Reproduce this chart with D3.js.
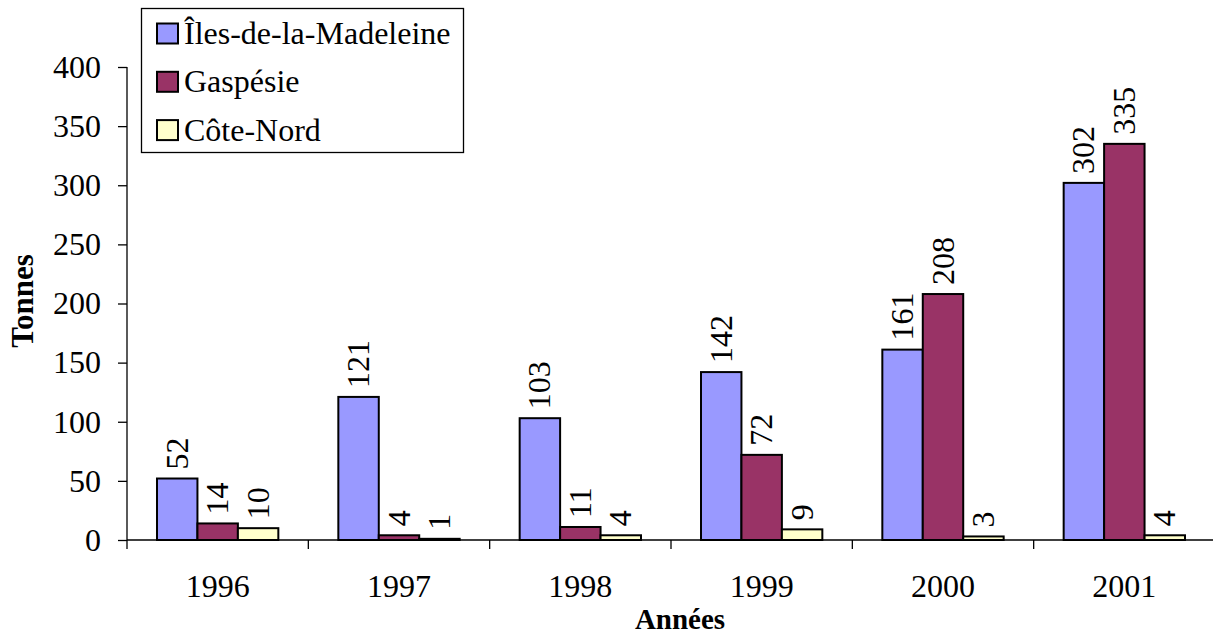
<!DOCTYPE html>
<html><head><meta charset="utf-8">
<script src="https://cdn.jsdelivr.net/npm/d3@7"></script>
<style>body{margin:0;background:#fff}svg{display:block}
svg text{font-family:"Liberation Serif","Times New Roman",Times,"DejaVu Serif",serif !important}</style>
</head><body>
<svg id="c" width="1213" height="637"></svg>
<script>
const years = ["1996","1997","1998","1999","2000","2001"];
const seriesNames = ["Îles-de-la-Madeleine","Gaspésie","Côte-Nord"];
const iles = [52,121,103,142,161,302];
const gaspesie = [14,4,11,72,208,335];
const coteNord = [10,1,4,9,3,4];
const colors = ["#9999FF","#993366","#FFFFCC"];
const yTicks = [0,50,100,150,200,250,300,350,400];

const seriesValues = [iles, gaspesie, coteNord];
const svg = d3.select("#c");
const mLeft = 127, mRight = 1215, mTop = 67, mBottom = 540;
const fs = 32;
const ff = '"Liberation Serif","Times New Roman",Times,"DejaVu Serif",serif';

const x = d3.scaleBand().domain(years).range([mLeft, mRight]).paddingInner(0).paddingOuter(0);
const x1 = d3.scaleBand().domain(seriesNames).range([30, x.bandwidth() - 30]);
const y = d3.scaleLinear().domain([0,400]).range([mBottom, mTop]);

// y axis
const ya = svg.append("g").attr("transform",`translate(${mLeft},0)`)
  .call(d3.axisLeft(y).tickValues(yTicks).tickSize(9).tickPadding(17))
  .attr("font-family", ff).attr("font-size", fs);
ya.select(".domain").attr("stroke","#000").attr("stroke-width",1.3).attr("d",`M0,${mTop}V${mBottom}`);
ya.selectAll(".tick line").attr("stroke","#000").attr("stroke-width",1.3);
ya.selectAll(".tick text").attr("fill","#000");

// x axis
const xa = svg.append("g").attr("transform",`translate(0,${mBottom})`)
  .call(d3.axisBottom(x).tickSize(0).tickPadding(34))
  .attr("font-family", ff).attr("font-size", fs);
xa.select(".domain").attr("stroke","#000").attr("stroke-width",1.3).attr("d",`M${mLeft},0H${mRight}`);
xa.selectAll(".tick text").attr("fill","#000");
const seps = years.map(d=>x(d)).concat([mRight]);
xa.selectAll("line.sep").data(seps).enter().append("line").attr("class","sep")
  .attr("x1",d=>d).attr("x2",d=>d).attr("y1",0).attr("y2",9).attr("stroke","#000").attr("stroke-width",1.3);

// bars
const groups = svg.append("g").attr("font-family", ff).attr("font-size", fs)
  .selectAll("g").data(years).enter().append("g")
  .attr("transform",d=>`translate(${x(d)},0)`);
groups.each(function(yr, i){
  const g = d3.select(this);
  seriesNames.forEach((s, j) => {
    const v = seriesValues[j][i];
    g.append("rect").attr("x", x1(s)).attr("width", x1.bandwidth())
      .attr("y", y(v)).attr("height", mBottom - y(v))
      .attr("fill", colors[j]).attr("stroke","#000").attr("stroke-width",2);
    const cx = x1(s) + x1.bandwidth()/2;
    g.append("text").attr("transform",`translate(${cx + 10.5},${y(v) - 9}) rotate(-90)`)
      .attr("text-anchor","start").attr("fill","#000").text(v);
  });
});

// axis titles
svg.append("text").attr("x", 680).attr("y", 629).attr("text-anchor","middle")
  .attr("font-size",29).attr("font-weight","bold").attr("fill","#000").text("Années");
svg.append("text").attr("transform",`translate(33,301) rotate(-90)`).attr("text-anchor","middle")
  .attr("font-size",31).attr("font-weight","bold").attr("fill","#000").text("Tonnes");

// legend
const lg = svg.append("g").attr("font-size", fs);
lg.append("rect").attr("x",141.5).attr("y",8.5).attr("width",322).attr("height",144)
  .attr("fill","#fff").attr("stroke","#000").attr("stroke-width",1.3);
seriesNames.forEach((s,j)=>{
  const cy = 33.5 + j*48.3;
  lg.append("rect").attr("x",157).attr("y",cy-10).attr("width",21).attr("height",20)
    .attr("fill",colors[j]).attr("stroke","#000").attr("stroke-width",2);
  lg.append("text").attr("x",184).attr("y",cy+10.5).attr("fill","#000").text(s);
});
</script>
</body></html>
